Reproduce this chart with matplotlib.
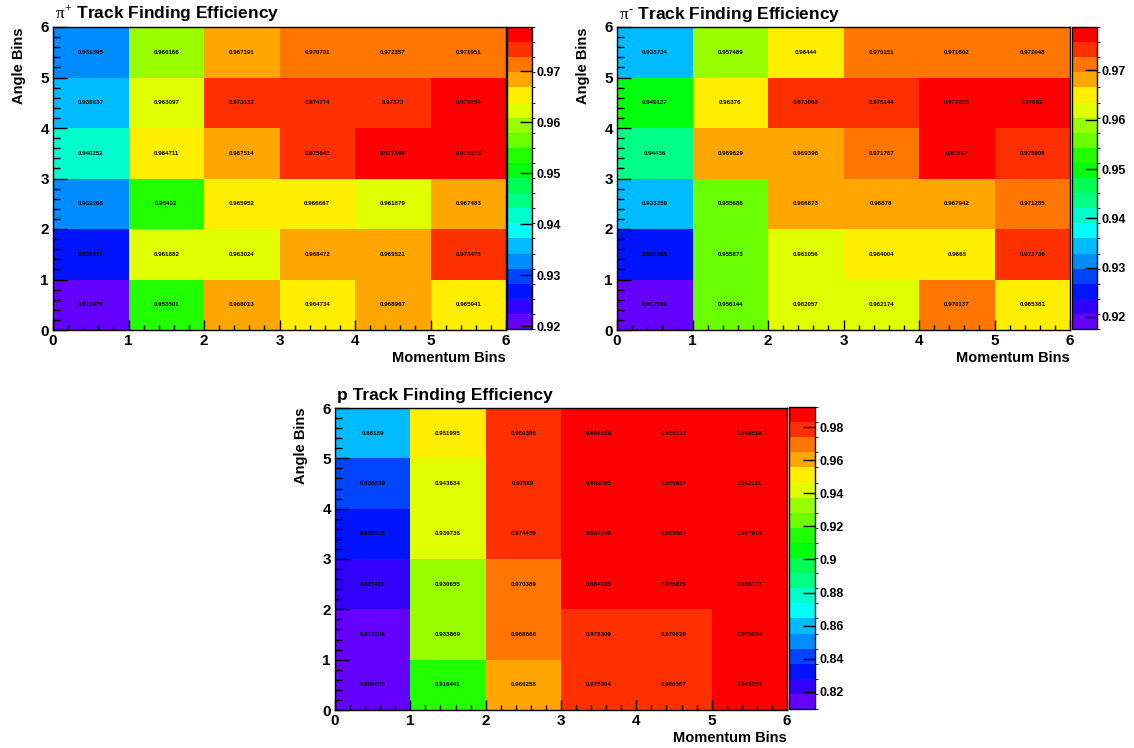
import colorsys
import numpy as np
import matplotlib
matplotlib.use("Agg")
import matplotlib.pyplot as plt
from matplotlib.colors import ListedColormap, BoundaryNorm
from matplotlib.ticker import AutoMinorLocator, MultipleLocator

plt.rcParams['font.family'] = ['Liberation Sans', 'DejaVu Sans']
plt.rcParams['mathtext.fontset'] = 'custom'
plt.rcParams['mathtext.rm'] = 'Liberation Serif'
plt.rcParams['mathtext.it'] = 'Liberation Serif'

# efficiency per (angle bin, momentum bin); rows go from angle bin 0 upwards
pip_eff = [
    [0.919479, 0.953501, 0.968013, 0.964734, 0.968967, 0.965941],
    [0.926627, 0.961882, 0.963024, 0.968472, 0.969521, 0.973473],
    [0.932268, 0.95432, 0.965952, 0.966667, 0.961879, 0.967483],
    [0.940252, 0.964711, 0.967514, 0.975642, 0.977349, 0.978673],
    [0.936637, 0.963097, 0.973132, 0.974774, 0.97373, 0.976054],
    [0.931395, 0.960166, 0.967191, 0.970701, 0.972357, 0.971951],
]
pim_eff = [
    [0.917559, 0.956144, 0.962057, 0.962174, 0.970137, 0.965381],
    [0.923955, 0.955873, 0.961056, 0.964004, 0.9665, 0.973736],
    [0.933359, 0.955686, 0.966873, 0.96878, 0.967942, 0.971285],
    [0.94436, 0.969629, 0.969396, 0.971767, 0.97617, 0.975008],
    [0.949127, 0.96376, 0.973068, 0.975144, 0.977825, 0.97882],
    [0.933724, 0.957489, 0.96444, 0.970151, 0.971802, 0.972048],
]
p_eff = [
    [0.809655, 0.916441, 0.960288, 0.978384, 0.980567, 0.983282],
    [0.810236, 0.933869, 0.968666, 0.978309, 0.979629, 0.985266],
    [0.827421, 0.930655, 0.970389, 0.984035, 0.985075, 0.986107],
    [0.830615, 0.939736, 0.974459, 0.987249, 0.988587, 0.987974],
    [0.838839, 0.943634, 0.97589, 0.992085, 0.989937, 0.992111],
    [0.86189, 0.951995, 0.980386, 0.986839, 0.989168, 0.990518],
]
momentum_edges = [0, 1, 2, 3, 4, 5, 6]
angle_edges = [0, 1, 2, 3, 4, 5, 6]

titles = [r'$\pi^{+}$ Track Finding Efficiency',
          r'$\pi^{\text{-}}$ Track Finding Efficiency',
          'p Track Finding Efficiency']
cbar_ticks = [[0.92, 0.93, 0.94, 0.95, 0.96, 0.97],
              [0.92, 0.93, 0.94, 0.95, 0.96, 0.97],
              [0.82, 0.84, 0.86, 0.88, 0.9, 0.92, 0.94, 0.96, 0.98]]

# old "pretty" rainbow palette, 50 hues sampled into 20 contour bands
ncont = 20
band_colors = []
for k in range(ncont):
    idx = int((k + 0.99) * 50 / ncont)
    hue = 280 - (idx + 1) * 5.6
    band_colors.append(colorsys.hls_to_rgb(hue / 360.0, 0.5, 1.0))
cmap = ListedColormap(band_colors)
cmap.set_over(band_colors[-1])
cmap.set_under(band_colors[0])

W, H = 1134, 748
fig = plt.figure(figsize=(W / 100, H / 100), dpi=100)


def px_axes(x0, y0, x1, y1):
    return fig.add_axes([x0 / W, 1 - y1 / H, (x1 - x0) / W, (y1 - y0) / H])


# (frame box, colour bar box) in pixels
boxes = [((53, 27, 506, 330), (507, 27, 532, 329)),
         ((617, 27, 1070, 330), (1072, 27, 1097, 329)),
         ((335, 408, 787, 710), (789, 407, 815, 709))]

for data, title, ticks, (fbox, cbox) in zip([pip_eff, pim_eff, p_eff], titles, cbar_ticks, boxes):
    z = np.array(data)
    ax = px_axes(*fbox)
    levels = np.linspace(z.min(), z.max(), ncont + 1)
    norm = BoundaryNorm(levels, ncont)
    mesh = ax.pcolormesh(momentum_edges, angle_edges, z, cmap=cmap, norm=norm)

    for i in range(z.shape[0]):
        for j in range(z.shape[1]):
            ax.text(j + 0.5, i + 0.5, '%g' % z[i, j], ha='center', va='center',
                    fontsize=4.4, fontweight='bold', color='black')

    ax.set_xlim(0, 6)
    ax.set_ylim(0, 6)
    ax.xaxis.set_major_locator(MultipleLocator(1))
    ax.yaxis.set_major_locator(MultipleLocator(1))
    ax.xaxis.set_minor_locator(AutoMinorLocator(5))
    ax.yaxis.set_minor_locator(AutoMinorLocator(5))
    ax.tick_params(axis='x', which='major', direction='in', length=7, width=1, pad=3)
    ax.tick_params(axis='x', which='minor', direction='in', length=3.5, width=1)
    ax.tick_params(axis='y', which='major', direction='in', length=10, width=1, pad=3)
    ax.tick_params(axis='y', which='minor', direction='in', length=5, width=1)
    ax.tick_params(labelsize=11)
    for lab in ax.get_xticklabels() + ax.get_yticklabels():
        lab.set_fontweight('bold')
    for s in ax.spines.values():
        s.set_linewidth(1)

    ax.set_xlabel('Momentum Bins', fontsize=10.5, fontweight='bold', loc='right', labelpad=2)
    ax.set_ylabel('Angle Bins', fontsize=10.5, fontweight='bold', loc='top', labelpad=10)
    ax.set_title(title, fontsize=12.5, fontweight='bold', loc='left', pad=6, x=0.005)

    cax = px_axes(*cbox)
    cb = fig.colorbar(mesh, cax=cax, ticks=ticks)
    cb.ax.set_ylim(levels[0], levels[-1])
    cb.ax.tick_params(direction='in', length=9, width=1, labelsize=9, pad=3)
    cb.ax.set_yticklabels(['%g' % t for t in ticks])
    for lab in cb.ax.get_yticklabels():
        lab.set_fontweight('bold')
    cb.outline.set_linewidth(1)

fig.savefig('out.png', dpi=100)
